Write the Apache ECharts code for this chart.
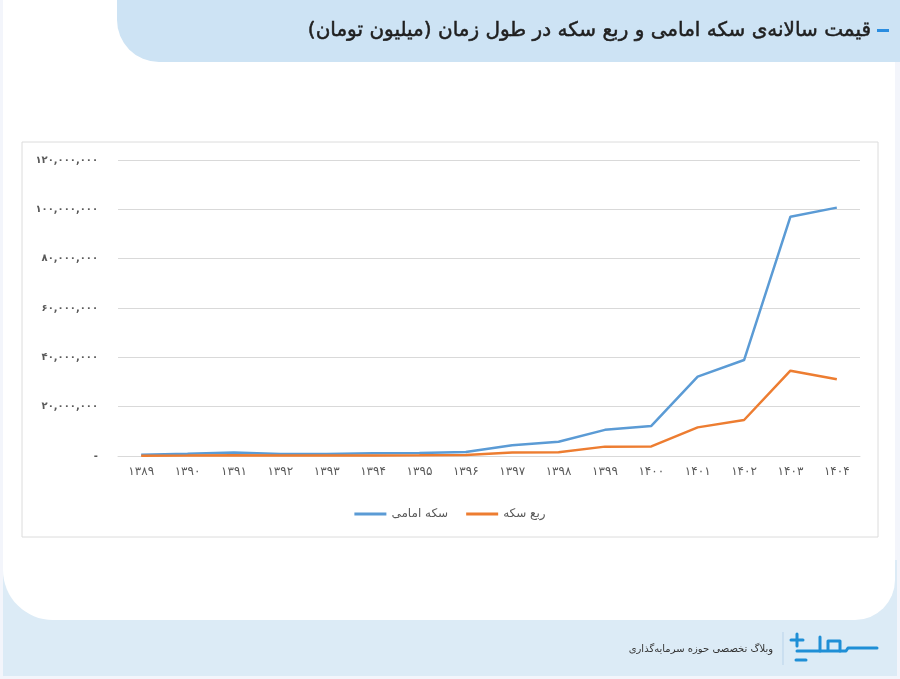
<!DOCTYPE html>
<html>
<head>
<meta charset="utf-8">
<script src="https://cdn.jsdelivr.net/npm/echarts@6/dist/echarts.min.js"></script>
<style>
html,body{margin:0;padding:0;background:#f3f5fb;}
#chart{width:900px;height:679px;}
</style>
</head>
<body>
<div id="chart"></div>
<script>
const years = ['۱۳۸۹','۱۳۹۰','۱۳۹۱','۱۳۹۲','۱۳۹۳','۱۳۹۴','۱۳۹۵','۱۳۹۶','۱۳۹۷','۱۳۹۸','۱۳۹۹','۱۴۰۰','۱۴۰۱','۱۴۰۲','۱۴۰۳','۱۴۰۴'];
const emamiCoin = [500000, 900000, 1400000, 800000, 800000, 1100000, 1200000, 1600000, 4400000, 5800000, 10600000, 12200000, 32200000, 38900000, 97000000, 100700000];
const quarterCoin = [150000, 200000, 300000, 250000, 250000, 250000, 300000, 400000, 1400000, 1500000, 3800000, 3900000, 11600000, 14600000, 34600000, 31100000];
const seriesNames = ['سکه امامی', 'ربع سکه'];
const titleText = 'قیمت سالانه‌ی سکه امامی و ربع سکه در طول زمان (میلیون تومان)';
const footerText = 'وبلاگ تخصصی حوزه سرمایه‌گذاری';

function toPersian(s) {
  return String(s).replace(/[0-9]/g, d => String.fromCharCode(0x06F0 + Number(d)));
}
function fmt(v) {
  if (v === 0) return '-';
  return toPersian(String(v).replace(/\B(?=(\d{3})+(?!\d))/g, ','));
}

const chart = echarts.init(document.getElementById('chart'), null, {renderer: 'canvas'});
const FONT = "'DejaVu Sans', 'Noto Sans', sans-serif";
const logoColor = '#1f8fd6';
const logoLine = (pts) => ({
  type: 'polyline', z: -1,
  shape: {points: pts},
  style: {stroke: logoColor, lineWidth: 3, fill: null, lineCap: 'round', lineJoin: 'round'}
});

chart.setOption({
  animation: false,
  backgroundColor: '#f3f5fb',
  graphic: [
    {type: 'rect', z: -10, shape: {x: 3, y: 560, width: 894, height: 116}, style: {fill: '#dcebf6'}},
    {type: 'rect', z: -9, shape: {x: 3, y: 0, width: 892, height: 620, r: [0, 0, 40, 50]}, style: {fill: '#ffffff'}},
    {type: 'rect', z: -8, shape: {x: 117, y: 0, width: 783, height: 62, r: [0, 0, 0, 42]}, style: {fill: '#cde3f4'}},
    {type: 'rect', z: -7, shape: {x: 877, y: 29, width: 12, height: 3}, style: {fill: '#2a8de0'}},
    {type: 'text', z: -7, style: {text: titleText, x: 871, y: 31, align: 'right', verticalAlign: 'middle',
      font: "20px 'DejaVu Sans', sans-serif", fill: '#1f1f1f', stroke: '#1f1f1f', lineWidth: 0.5}},
    {type: 'rect', z: -7, shape: {x: 22, y: 142, width: 856, height: 395}, style: {fill: '#ffffff', stroke: '#dcdcdc', lineWidth: 1}},
    {type: 'line', z: -1, shape: {x1: 783, y1: 632, x2: 783, y2: 665}, style: {stroke: '#b9d3ea', lineWidth: 1}},
    {type: 'text', z: -1, style: {text: footerText, x: 773, y: 649, align: 'right', verticalAlign: 'middle',
      font: "10px 'DejaVu Sans', sans-serif", fill: '#333333'}},
    logoLine([[791, 640], [803, 640]]),
    logoLine([[797, 634], [797, 646]]),
    logoLine([[797, 651], [820, 651], [820, 637]]),
    logoLine([[820, 651], [840, 651], [840, 641], [828, 641], [828, 651]]),
    logoLine([[840, 651], [846, 651], [848, 648], [877, 648]]),
    logoLine([[796, 660], [806, 660]])
  ],
  legend: {
    data: seriesNames,
    left: 'center',
    top: 503,
    itemWidth: 32,
    itemHeight: 10,
    itemGap: 18,
    icon: 'path://M0,3.5 L30,3.5 L30,6.5 L0,6.5 Z',
    textStyle: {color: '#595959', fontSize: 12, fontFamily: FONT}
  },
  grid: {left: 118, right: 40, top: 160, bottom: 223, containLabel: false},
  xAxis: {
    type: 'category',
    data: years,
    boundaryGap: true,
    axisLine: {show: true, lineStyle: {color: '#d9d9d9', width: 1}},
    axisTick: {show: false},
    axisLabel: {color: '#595959', fontSize: 12, margin: 10, fontFamily: FONT, interval: 0}
  },
  yAxis: {
    type: 'value',
    min: 0,
    max: 120000000,
    interval: 20000000,
    axisLine: {show: false},
    axisTick: {show: false},
    splitLine: {lineStyle: {color: '#d9d9d9', width: 1}},
    axisLabel: {color: '#595959', fontSize: 10, margin: 20, fontFamily: FONT, fontWeight: 'bold', formatter: fmt}
  },
  series: [
    {name: seriesNames[0], type: 'line', data: emamiCoin, showSymbol: false, symbol: 'none',
      lineStyle: {color: '#5b9bd5', width: 2.5}, itemStyle: {color: '#5b9bd5'}, z: 3},
    {name: seriesNames[1], type: 'line', data: quarterCoin, showSymbol: false, symbol: 'none',
      lineStyle: {color: '#ed7d31', width: 2.5}, itemStyle: {color: '#ed7d31'}, z: 4}
  ]
});
</script>
</body>
</html>
